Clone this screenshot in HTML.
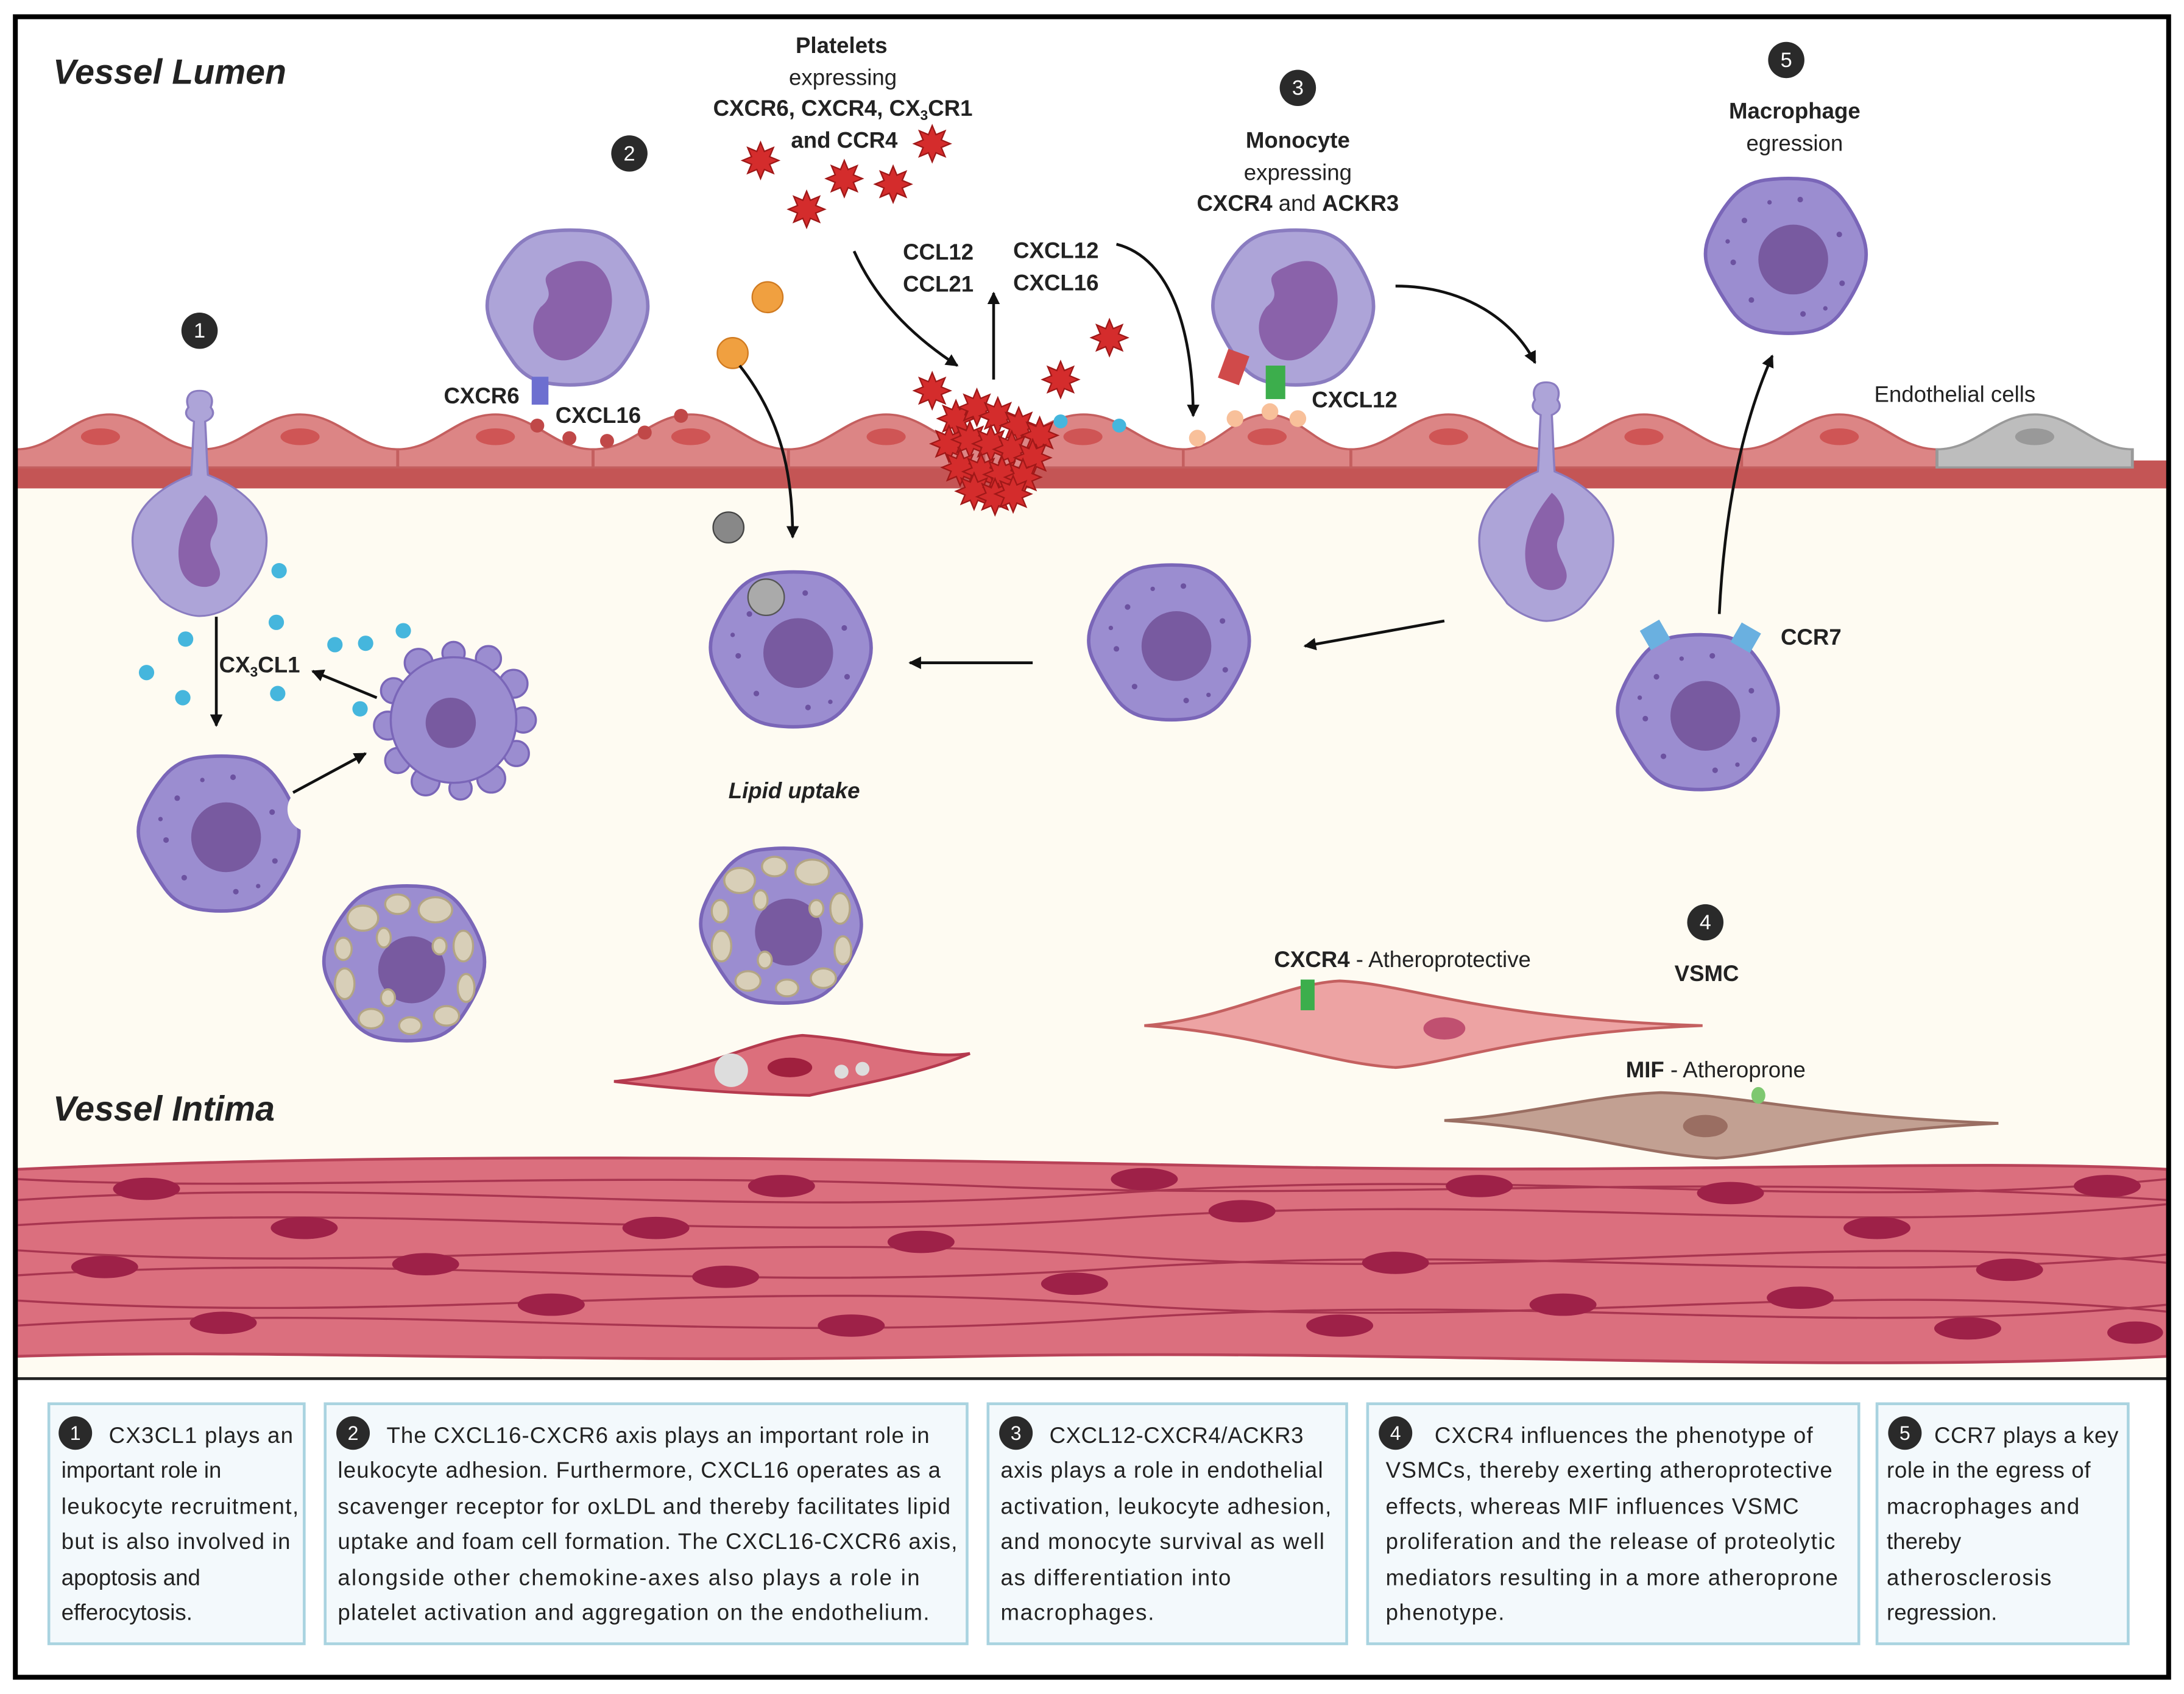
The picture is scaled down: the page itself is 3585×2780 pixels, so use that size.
<!DOCTYPE html>
<html><head><meta charset="utf-8"><style>
html,body{margin:0;padding:0;background:#fff;width:3585px;height:2780px;overflow:hidden}
svg{display:block}
text{font-family:"Liberation Sans",sans-serif;fill:#222}
.b{font-weight:bold}
.t{font-size:16px;fill:#333}
.w{fill:#fff}
</style></head><body>
<svg width="3585" height="2780" viewBox="0 0 1565 1214" preserveAspectRatio="none" xmlns="http://www.w3.org/2000/svg" xmlns:xlink="http://www.w3.org/1999/xlink">
<defs>
<marker id="ah" markerWidth="9" markerHeight="9" refX="8" refY="4.5" orient="auto" markerUnits="userSpaceOnUse"><path d="M0,0 L9,4.5 L0,9 Z" fill="#111"/></marker>
<path id="blob" d="M54.7,-14.2 Q60,0 54.2,14 Q48.5,28 39.5,40.4 Q30.5,52.8 15.2,54.9 Q0,57 -15,54.5 Q-30,52 -38.8,39.8 Q-47.6,27.5 -54.3,13.8 Q-61,0 -55.2,-14.2 Q-49.4,-28.5 -39.7,-40.2 Q-30,-52 -15,-54 Q0,-56 15.2,-54.4 Q30.5,-52.8 40,-40.6 Q49.4,-28.5 54.7,-14.2Z"/>
<g id="mac">
<use xlink:href="#blob" fill="#9b8dd0" stroke="#7a66b8" stroke-width="2.5"/>
<circle cx="5" cy="3" r="25" fill="#785aa0"/>
<g fill="#6c52a0"><circle cx="-30" cy="-25" r="2"/><circle cx="-38" cy="5" r="2"/><circle cx="-25" cy="32" r="2"/><circle cx="10" cy="-40" r="2"/><circle cx="38" cy="-15" r="2"/><circle cx="40" cy="20" r="2"/><circle cx="12" cy="42" r="2"/><circle cx="-12" cy="-38" r="1.6"/><circle cx="-42" cy="-10" r="1.6"/><circle cx="28" cy="38" r="1.6"/></g>
</g>
<g id="foam">
<use xlink:href="#blob" fill="#9b8dd0" stroke="#7a66b8" stroke-width="2.5"/>
<circle cx="5" cy="5" r="24" fill="#785aa0"/>
<g fill="#d8cfb8" stroke="#b3a585" stroke-width="1.5">
<ellipse cx="-30" cy="-32" rx="11" ry="9"/><ellipse cx="-5" cy="-42" rx="9" ry="7"/><ellipse cx="22" cy="-38" rx="12" ry="9"/><ellipse cx="42" cy="-12" rx="7" ry="11"/><ellipse cx="44" cy="18" rx="6" ry="10"/><ellipse cx="30" cy="38" rx="9" ry="7"/><ellipse cx="4" cy="45" rx="8" ry="6"/><ellipse cx="-24" cy="40" rx="9" ry="7"/><ellipse cx="-43" cy="15" rx="7" ry="11"/><ellipse cx="-44" cy="-10" rx="6" ry="8"/><ellipse cx="-15" cy="-18" rx="5" ry="7"/><ellipse cx="25" cy="-12" rx="5" ry="6"/><ellipse cx="-12" cy="25" rx="5" ry="6"/>
</g></g>
<g id="mono">
<use xlink:href="#blob" fill="#ada4d8" stroke="#8a7cc0" stroke-width="2.5"/>
<path d="M-5,-25 C28,-42 40,5 11,28 C-11,45 -31,17 -17,0 C-3,-11 -25,-17 -5,-25Z" fill="#8a62aa" transform="scale(1.15)"/>
</g>
<g id="trans">
<path d="M0,0 c-9,0 -10,8 -8,14 c-4,6 0,10 4,12 c-1,18 -1,30 -2,45 c-22,10 -42,28 -42,55 c0,28 16,42 20,50 c10,10 22,14 28,14 c8,0 20,-4 28,-14 c5,-8 20,-22 20,-50 c0,-27 -20,-45 -42,-55 c-1,-15 -1,-27 -2,-45 c4,-2 8,-6 4,-12 c2,-6 1,-14 -8,-14Z" fill="#ada4d8" stroke="#8a7cc0" stroke-width="1.5"/>
<path d="M4,88 c-15,20 -22,40 -18,60 c4,20 24,22 28,10 c4,-12 -12,-22 -4,-37 c6,-12 2,-26 -6,-33Z" fill="#8a62aa"/>
</g>
<path id="plt" d="M13,0 L6.5,2.7 L9.2,9.2 L2.7,6.5 L0,13 L-2.7,6.5 L-9.2,9.2 L-6.5,2.7 L-13,0 L-6.5,-2.7 L-9.2,-9.2 L-2.7,-6.5 L0,-13 L2.7,-6.5 L9.2,-9.2 L6.5,-2.7Z" fill="#d42c2c" stroke="#a01818" stroke-width="1"/>
<g id="endo"><path d="M0,335 V322 C20,322 30,297 50,297 C70,297 80,322 100,322 V335 Z"/></g>
</defs>
<rect x="0" y="0" width="1565" height="1214" fill="#fff"/>
<rect x="12" y="345" width="1541" height="643" fill="#fefbf2"/>
<rect x="12" y="330" width="1541" height="20" fill="#c45555"/>
<!-- endothelial cells -->
<g fill="#dc8585" stroke="#c45f5f" stroke-width="1.5">
<use xlink:href="#endo" transform="translate(12,0) scale(1.33,1)"/>
<use xlink:href="#endo" transform="translate(145,0) scale(1.4,1)"/>
<use xlink:href="#endo" transform="translate(285,0) scale(1.4,1)"/>
<use xlink:href="#endo" transform="translate(425,0) scale(1.4,1)"/>
<use xlink:href="#endo" transform="translate(565,0) scale(1.4,1)"/>
<use xlink:href="#endo" transform="translate(705,0) scale(1.43,1)"/>
<use xlink:href="#endo" transform="translate(848,0) scale(1.2,1)"/>
<use xlink:href="#endo" transform="translate(968,0) scale(1.4,1)"/>
<use xlink:href="#endo" transform="translate(1108,0) scale(1.4,1)"/>
<use xlink:href="#endo" transform="translate(1248,0) scale(1.4,1)"/>
</g>
<use xlink:href="#endo" transform="translate(1388,0) scale(1.4,1)" fill="#bdbdbd" stroke="#999" stroke-width="1.5"/>
<g fill="#cf5555">
<ellipse cx="72" cy="313" rx="14" ry="6"/><ellipse cx="215" cy="313" rx="14" ry="6"/><ellipse cx="355" cy="313" rx="14" ry="6"/><ellipse cx="495" cy="313" rx="14" ry="6"/><ellipse cx="635" cy="313" rx="14" ry="6"/><ellipse cx="776" cy="313" rx="14" ry="6"/><ellipse cx="908" cy="313" rx="14" ry="6"/><ellipse cx="1038" cy="313" rx="14" ry="6"/><ellipse cx="1178" cy="313" rx="14" ry="6"/><ellipse cx="1318" cy="313" rx="14" ry="6"/>
</g>
<ellipse cx="1458" cy="313" rx="14" ry="6" fill="#999"/>
<!-- smooth muscle layer -->
<path d="M12,838 C300,825 600,830 900,836 C1200,842 1400,830 1553,838 L1553,972 C1300,985 1000,966 700,972 C400,978 200,966 12,972 Z" fill="#db6f7e" stroke="#b84258" stroke-width="2"/>
<g fill="none" stroke="#a83550" stroke-width="1.5">
<path d="M12,860 C300,842 500,875 800,855 S1300,870 1553,845"/>
<path d="M12,878 C300,860 500,893 800,873 S1300,888 1553,863"/>
<path d="M12,896 C300,915 500,880 800,900 S1300,880 1553,905"/>
<path d="M12,914 C300,896 500,929 800,909 S1300,924 1553,899"/>
<path d="M12,932 C300,950 500,915 800,935 S1300,915 1553,940"/>
<path d="M12,950 C300,932 500,965 800,945 S1300,960 1553,935"/>
<path d="M12,845 C200,855 400,838 700,850 S1200,838 1553,860"/>
</g>
<g fill="#9e2148">
<ellipse cx="105" cy="852" rx="24" ry="8"/><ellipse cx="218" cy="880" rx="24" ry="8"/><ellipse cx="305" cy="906" rx="24" ry="8"/><ellipse cx="395" cy="935" rx="24" ry="8"/><ellipse cx="560" cy="850" rx="24" ry="8"/><ellipse cx="660" cy="890" rx="24" ry="8"/><ellipse cx="770" cy="920" rx="24" ry="8"/><ellipse cx="890" cy="868" rx="24" ry="8"/><ellipse cx="1000" cy="905" rx="24" ry="8"/><ellipse cx="1120" cy="935" rx="24" ry="8"/><ellipse cx="1240" cy="855" rx="24" ry="8"/><ellipse cx="1345" cy="880" rx="24" ry="8"/><ellipse cx="1440" cy="910" rx="24" ry="8"/><ellipse cx="1510" cy="850" rx="24" ry="8"/><ellipse cx="160" cy="948" rx="24" ry="8"/><ellipse cx="470" cy="880" rx="24" ry="8"/><ellipse cx="1060" cy="850" rx="24" ry="8"/><ellipse cx="1290" cy="930" rx="24" ry="8"/><ellipse cx="75" cy="908" rx="24" ry="8"/><ellipse cx="610" cy="950" rx="24" ry="8"/><ellipse cx="1410" cy="952" rx="24" ry="8"/><ellipse cx="520" cy="915" rx="24" ry="8"/><ellipse cx="960" cy="950" rx="24" ry="8"/><ellipse cx="820" cy="845" rx="24" ry="8"/><ellipse cx="1530" cy="955" rx="20" ry="8"/>
</g>
<line x1="12" y1="988" x2="1553" y2="988" stroke="#222" stroke-width="2"/>

<!-- section 1 -->
<use xlink:href="#trans" transform="translate(143,280) scale(1,0.85)"/>
<g fill="#45b6dd"><circle cx="200" cy="409" r="5.5"/><circle cx="198" cy="446" r="5.5"/><circle cx="133" cy="458" r="5.5"/><circle cx="105" cy="482" r="5.5"/><circle cx="131" cy="500" r="5.5"/><circle cx="199" cy="497" r="5.5"/><circle cx="240" cy="462" r="5.5"/><circle cx="262" cy="461" r="5.5"/><circle cx="289" cy="452" r="5.5"/><circle cx="258" cy="508" r="5.5"/></g>
<use xlink:href="#mac" transform="translate(157,597)"/>
<circle cx="222" cy="580" r="16" fill="#fefbf2"/>
<g fill="#9b8dd0" stroke="#7a66b8" stroke-width="1.5">
<circle cx="375" cy="516" r="9"/><circle cx="368" cy="490" r="10"/><circle cx="350" cy="472" r="9"/><circle cx="325" cy="468" r="8"/><circle cx="300" cy="475" r="10"/><circle cx="282" cy="495" r="9"/><circle cx="278" cy="520" r="10"/><circle cx="285" cy="545" r="9"/><circle cx="305" cy="560" r="10"/><circle cx="330" cy="565" r="8"/><circle cx="352" cy="558" r="10"/><circle cx="370" cy="540" r="9"/>
<circle cx="325" cy="516" r="45"/>
</g>
<circle cx="323" cy="518" r="18" fill="#785aa0"/>
<use xlink:href="#foam" transform="translate(290,690)"/>

<!-- section 2 -->
<use xlink:href="#mono" transform="translate(407,220)"/>
<rect x="381" y="270" width="12" height="20" fill="#6d6fd0"/>
<g fill="#c04848"><circle cx="385" cy="305" r="5"/><circle cx="408" cy="314" r="5"/><circle cx="435" cy="316" r="5"/><circle cx="462" cy="310" r="5"/><circle cx="488" cy="298" r="5"/></g>
<use xlink:href="#plt" x="545" y="115"/><use xlink:href="#plt" x="605" y="128"/><use xlink:href="#plt" x="640" y="132"/><use xlink:href="#plt" x="668" y="103"/><use xlink:href="#plt" x="578" y="150"/><use xlink:href="#plt" x="668" y="280"/><use xlink:href="#plt" x="760" y="272"/><use xlink:href="#plt" x="795" y="242"/>
<use xlink:href="#plt" x="685" y="300"/><use xlink:href="#plt" x="700" y="292"/><use xlink:href="#plt" x="715" y="298"/><use xlink:href="#plt" x="730" y="305"/><use xlink:href="#plt" x="745" y="312"/><use xlink:href="#plt" x="680" y="318"/><use xlink:href="#plt" x="695" y="315"/><use xlink:href="#plt" x="710" y="318"/><use xlink:href="#plt" x="725" y="322"/><use xlink:href="#plt" x="740" y="328"/><use xlink:href="#plt" x="688" y="335"/><use xlink:href="#plt" x="703" y="338"/><use xlink:href="#plt" x="718" y="340"/><use xlink:href="#plt" x="733" y="342"/><use xlink:href="#plt" x="698" y="352"/><use xlink:href="#plt" x="713" y="356"/><use xlink:href="#plt" x="726" y="354"/>
<circle cx="550" cy="213" r="11" fill="#f0a040" stroke="#d07a20"/>
<circle cx="525" cy="253" r="11" fill="#f0a040" stroke="#d07a20"/>
<circle cx="760" cy="302" r="5" fill="#45b6dd"/><circle cx="802" cy="305" r="5" fill="#45b6dd"/>
<use xlink:href="#mac" transform="translate(567,465)"/>
<circle cx="549" cy="428" r="13" fill="#aaa" stroke="#555"/>
<circle cx="522" cy="378" r="11" fill="#888" stroke="#444"/>
<use xlink:href="#foam" transform="translate(560,663)"/>
<path d="M440,775 C500,770 540,745 575,742 C620,745 660,760 695,755 C660,770 610,778 580,785 C530,784 480,780 440,775Z" fill="#dc6f7c" stroke="#b53a4e" stroke-width="2"/>
<ellipse cx="566" cy="765" rx="16" ry="7" fill="#a0203e"/>
<circle cx="524" cy="767" r="12" fill="#ddd"/>
<circle cx="603" cy="768" r="5" fill="#ddd"/><circle cx="618" cy="766" r="5" fill="#ddd"/>

<!-- section 3 -->
<use xlink:href="#mono" transform="translate(927,220)"/>
<rect x="876" y="252" width="16" height="22" fill="#d04a4a" transform="rotate(20 884 263)"/>
<rect x="907" y="262" width="14" height="24" fill="#3cae4c"/>
<g fill="#f8c09a"><circle cx="858" cy="314" r="6"/><circle cx="885" cy="300" r="6"/><circle cx="910" cy="295" r="6"/><circle cx="930" cy="300" r="6"/></g>
<use xlink:href="#trans" transform="translate(1108,274) scale(1,0.9)"/>
<use xlink:href="#mac" transform="translate(838,460)"/>

<!-- section 5 -->
<use xlink:href="#mac" transform="translate(1280,183)"/>
<use xlink:href="#mac" transform="translate(1217,510)"/>
<rect x="1178" y="447" width="16" height="16" fill="#6ab0e0" transform="rotate(-30 1186 455)"/>
<rect x="1243" y="449" width="16" height="16" fill="#6ab0e0" transform="rotate(30 1251 457)"/>

<!-- section 4 -->
<path d="M820,735 C880,730 920,705 960,703 C1010,705 1060,730 1220,735 C1090,740 1040,762 1000,765 C950,762 900,740 820,735Z" fill="#eda3a3" stroke="#c46060" stroke-width="2"/>
<ellipse cx="1035" cy="737" rx="15" ry="8" fill="#c05070"/>
<rect x="932" y="702" width="10" height="22" fill="#3cae4c"/>
<path d="M1035,803 C1090,800 1140,785 1190,783 C1250,785 1300,800 1432,805 C1320,810 1270,828 1230,830 C1180,828 1120,808 1035,803Z" fill="#c2a092" stroke="#9a6e62" stroke-width="2"/>
<ellipse cx="1222" cy="807" rx="16" ry="8" fill="#9a6e62"/>
<ellipse cx="1260" cy="785" rx="5" ry="6" fill="#7ec870"/>

<rect x="11" y="12" width="1543" height="1190" fill="none" stroke="#000" stroke-width="3.5"/>
<!-- labels -->
<text x="38" y="60" class="b" font-size="25" font-style="italic">Vessel Lumen</text>
<text x="38" y="803" class="b" font-size="25" font-style="italic">Vessel Intima</text>
<g font-size="16" text-anchor="middle">
<text x="603" y="38" class="b">Platelets</text>
<text x="604" y="61" fill="#444">expressing</text>
<text x="604" y="83" class="b">CXCR6, CXCR4, CX<tspan font-size="10" dy="3">3</tspan><tspan dy="-3">CR1</tspan></text>
<text x="605" y="106" class="b">and CCR4</text>
<text x="930" y="106" class="b">Monocyte</text>
<text x="930" y="129" fill="#444">expressing</text>
<text x="930" y="151"><tspan class="b">CXCR4</tspan> and <tspan class="b">ACKR3</tspan></text>
<text x="1286" y="85" class="b">Macrophage</text>
<text x="1286" y="108" fill="#444">egression</text>
<text x="1223" y="703" class="b">VSMC</text>
</g>
<g font-size="16">
<text x="647" y="186" class="b">CCL12</text><text x="647" y="209" class="b">CCL21</text>
<text x="726" y="185" class="b">CXCL12</text><text x="726" y="208" class="b">CXCL16</text>
<text x="940" y="292" class="b">CXCL12</text>
<text x="318" y="289" class="b">CXCR6</text>
<text x="398" y="303" class="b">CXCL16</text>
<text x="157" y="482" class="b">CX<tspan font-size="10" dy="3">3</tspan><tspan dy="-3">CL1</tspan></text>
<text x="1343" y="288" fill="#444">Endothelial cells</text>
<text x="1276" y="462" class="b">CCR7</text>
<text x="522" y="572" class="b" font-style="italic">Lipid uptake</text>
<text x="913" y="693"><tspan class="b">CXCR4</tspan> - Atheroprotective</text>
<text x="1165" y="772"><tspan class="b">MIF</tspan> - Atheroprone</text>
</g>
<!-- arrows -->
<g stroke="#111" stroke-width="2" fill="none" marker-end="url(#ah)">
<line x1="155" y1="442" x2="155" y2="520"/>
<line x1="270" y1="500" x2="224" y2="481"/>
<line x1="210" y1="568" x2="262" y2="540"/>
<path d="M530,262 C560,300 568,340 568,385"/>
<path d="M612,180 C630,220 660,245 686,262"/>
<line x1="712" y1="272" x2="712" y2="210"/>
<path d="M800,175 C840,185 855,240 855,298"/>
<path d="M1000,205 C1050,205 1085,230 1100,260"/>
<line x1="740" y1="475" x2="652" y2="475"/>
<line x1="1035" y1="445" x2="935" y2="463"/>
<path d="M1232,440 C1236,360 1250,300 1270,255"/>
</g>
<!-- badges -->
<g fill="#2a2a2a"><circle cx="143" cy="237" r="13"/><circle cx="451" cy="110" r="13"/><circle cx="930" cy="63" r="13"/><circle cx="1222" cy="661" r="13"/><circle cx="1280" cy="43" r="13"/></g>
<g font-size="15" text-anchor="middle">
<text x="143" y="242" class="w">1</text><text x="451" y="115" class="w">2</text><text x="930" y="68" class="w">3</text><text x="1222" y="666" class="w">4</text><text x="1280" y="48" class="w">5</text>
</g>
<!-- bottom boxes -->
<g fill="#f3f9fc" stroke="#a9d3e0" stroke-width="2">
<rect x="35" y="1006" width="183" height="172"/>
<rect x="233" y="1006" width="460" height="172"/>
<rect x="708" y="1006" width="257" height="172"/>
<rect x="980" y="1006" width="352" height="172"/>
<rect x="1345" y="1006" width="180" height="172"/>
</g>
<g fill="#2a2a2a"><circle cx="54" cy="1027" r="12"/><circle cx="253" cy="1027" r="12"/><circle cx="728" cy="1027" r="12"/><circle cx="1000" cy="1027" r="12"/><circle cx="1365" cy="1027" r="12"/></g>
<g font-size="14" text-anchor="middle">
<text x="54" y="1032" class="w">1</text><text x="253" y="1032" class="w">2</text><text x="728" y="1032" class="w">3</text><text x="1000" y="1032" class="w">4</text><text x="1365" y="1032" class="w">5</text>
</g>
<g class="t" font-size="16">
<text x="78" y="1034" textLength="132">CX3CL1 plays an</text>
<text x="44" y="1059">important role in</text>
<text x="44" y="1085" textLength="170">leukocyte recruitment,</text>
<text x="44" y="1110" textLength="164">but is also involved in</text>
<text x="44" y="1136">apoptosis and</text>
<text x="44" y="1161">efferocytosis.</text>

<text x="277" y="1034" textLength="389">The CXCL16-CXCR6 axis plays an important role in</text>
<text x="242" y="1059" textLength="432">leukocyte adhesion. Furthermore, CXCL16 operates as a</text>
<text x="242" y="1085" textLength="439">scavenger receptor for oxLDL and thereby facilitates lipid</text>
<text x="242" y="1110" textLength="444">uptake and foam cell formation. The CXCL16-CXCR6 axis,</text>
<text x="242" y="1136" textLength="417">alongside other chemokine-axes also plays a role in</text>
<text x="242" y="1161" textLength="424">platelet activation and aggregation on the endothelium.</text>

<text x="752" y="1034" textLength="182">CXCL12-CXCR4/ACKR3</text>
<text x="717" y="1059" textLength="231">axis plays a role in endothelial</text>
<text x="717" y="1085" textLength="237">activation, leukocyte adhesion,</text>
<text x="717" y="1110" textLength="232">and monocyte survival as well</text>
<text x="717" y="1136" textLength="165">as differentiation into</text>
<text x="717" y="1161" textLength="110">macrophages.</text>

<text x="1028" y="1034" textLength="271">CXCR4 influences the phenotype of</text>
<text x="993" y="1059" textLength="320">VSMCs, thereby exerting atheroprotective</text>
<text x="993" y="1085" textLength="296">effects, whereas MIF influences VSMC</text>
<text x="993" y="1110" textLength="322">proliferation and the release of proteolytic</text>
<text x="993" y="1136" textLength="324">mediators resulting in a more atheroprone</text>
<text x="993" y="1161" textLength="85">phenotype.</text>

<text x="1386" y="1034" textLength="132">CCR7 plays a key</text>
<text x="1352" y="1059" textLength="146">role in the egress of</text>
<text x="1352" y="1085" textLength="138">macrophages and</text>
<text x="1352" y="1110">thereby</text>
<text x="1352" y="1136" textLength="118">atherosclerosis</text>
<text x="1352" y="1161">regression.</text>
</g>
</svg>
</body></html>
